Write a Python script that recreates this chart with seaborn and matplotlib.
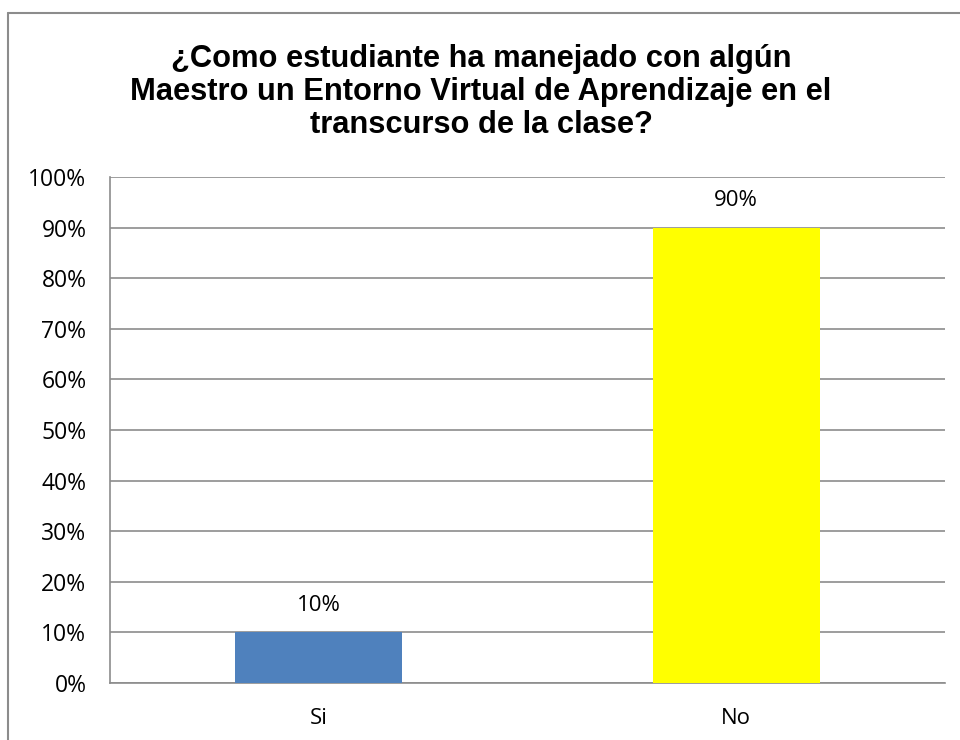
import matplotlib
matplotlib.use('Agg')
import matplotlib.pyplot as plt
import seaborn as sns
import pandas as pd
from matplotlib.lines import Line2D

categorias = ['Si', 'No']
porcentajes = [10, 90]
colores = ['#4F81BD', '#FFFF00']
titulo = '¿Como estudiante ha manejado con algún\nMaestro un Entorno Virtual de Aprendizaje en el\ntranscurso de la clase?'
ticks_y = list(range(0, 101, 10))

sns.set_theme(style='white')
plt.rcParams['font.family'] = ['Liberation Sans', 'DejaVu Sans']
fuente = ['Open Sans', 'DejaVu Sans']

df = pd.DataFrame({'respuesta': categorias, 'pct': porcentajes})

fig = plt.figure(figsize=(9.6, 7.4), dpi=100)
ax = fig.add_axes([110 / 960, 1 - 683 / 740, 835 / 960, 506 / 740])

sns.barplot(data=df, x='respuesta', y='pct', hue='respuesta', palette=colores,
            width=0.40, legend=False, ax=ax, saturation=1, linewidth=0, zorder=3)

ax.set_ylim(0, 100)
ax.set_xlim(-0.5, 1.5)
ax.set_yticks(ticks_y)
ax.set_yticklabels([f'{t}%' for t in ticks_y], fontsize=16.5, family=fuente, color='black')
ax.set_xticks(range(len(categorias)))
ax.set_xticklabels(categorias, fontsize=16, family=fuente, color='black')
ax.tick_params(axis='x', pad=18, length=0)
ax.tick_params(axis='y', pad=17, length=0)
ax.set_xlabel('')
ax.set_ylabel('')
ax.grid(axis='y', color='#8c8c8c', linewidth=1.2, zorder=0)
ax.set_axisbelow(True)
for lado in ['top', 'right']:
    ax.spines[lado].set_visible(False)
for lado in ['left', 'bottom']:
    ax.spines[lado].set_color('#8c8c8c')
    ax.spines[lado].set_linewidth(1.2)

for i, v in enumerate(porcentajes):
    ax.text(i, v + 3.2, f'{v}%', ha='center', va='bottom', fontsize=16,
            family=fuente, color='black')

fig.text(0.501, 1 - 92 / 740, titulo, ha='center', va='center', fontsize=22.2,
         fontweight='bold', linespacing=1.12, color='black')

# marco del gráfico (solo se ven borde superior e izquierdo)
fig.add_artist(Line2D([8 / 960, 1], [1 - 13 / 740, 1 - 13 / 740], color='#8c8c8c', linewidth=1.5))
fig.add_artist(Line2D([8 / 960, 8 / 960], [0, 1 - 13 / 740], color='#8c8c8c', linewidth=1.5))

fig.savefig('out.png', dpi=100)
